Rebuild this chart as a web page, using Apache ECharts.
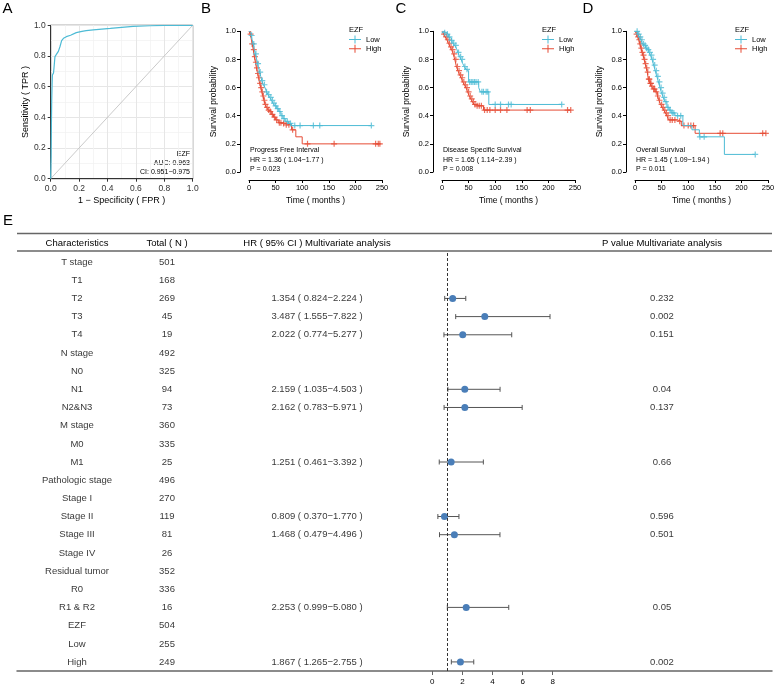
<!DOCTYPE html>
<html>
<head>
<meta charset="utf-8">
<title>EZF</title>
<script src="https://cdn.jsdelivr.net/npm/echarts@6/dist/echarts.min.js"></script>
<style>
  html, body { margin: 0; padding: 0; background: #fff; }
  #main { width: 778px; height: 686px; }
</style>
</head>
<body>
<div id="main"></div>
<script>
// ---- A: ROC ----
const rocFpr = [0, 0, 0.003, 0.005, 0.007, 0.01, 0.012, 0.02, 0.023, 0.03, 0.04, 0.054, 0.065, 0.077, 0.09, 0.11, 0.14, 0.18, 0.22, 0.25, 0.3, 0.36, 0.42, 0.5, 0.58, 0.7, 0.8, 1]
const rocTpr = [0, 0.02, 0.15, 0.35, 0.5, 0.62, 0.676, 0.69, 0.72, 0.796, 0.81, 0.83, 0.86, 0.9, 0.915, 0.926, 0.935, 0.952, 0.96, 0.965, 0.97, 0.975, 0.98, 0.987, 0.993, 0.997, 1, 1]
const diagonal = [0, 1]

// ---- B: progress free interval ----
const pfiLowTime = [0, 2, 4, 6, 8, 10, 12, 14, 16, 18, 20, 22, 24, 27, 30, 33, 36, 39, 42, 45, 48, 52, 56, 60, 64, 68, 74, 80]
const pfiLowSurv = [1, 0.99, 0.97, 0.94, 0.91, 0.87, 0.84, 0.81, 0.77, 0.74, 0.71, 0.68, 0.65, 0.62, 0.6, 0.57, 0.55, 0.53, 0.51, 0.49, 0.47, 0.45, 0.43, 0.4, 0.38, 0.36, 0.345, 0.33]
const pfiLowCensor = [5, 9, 13, 17, 21, 25, 29, 33, 37, 41, 44, 47, 50, 54, 58, 62, 66, 72, 78, 86, 96, 121, 133, 230]
const pfiHighTime = [0, 2, 4, 6, 8, 10, 12, 14, 16, 18, 20, 22, 24, 26, 28, 30, 33, 36, 39, 42, 46, 50, 55, 62, 70, 80, 88, 100]
const pfiHighSurv = [1, 0.98, 0.95, 0.91, 0.87, 0.82, 0.78, 0.74, 0.7, 0.67, 0.63, 0.6, 0.57, 0.54, 0.51, 0.48, 0.46, 0.44, 0.43, 0.41, 0.39, 0.37, 0.35, 0.345, 0.335, 0.3, 0.25, 0.2]
const pfiHighCensor = [3, 6, 9, 11, 13, 15, 17, 19, 21, 23, 25, 27, 29, 31, 34, 37, 40, 44, 48, 52, 57, 60, 65, 70, 75, 82, 110, 160, 238, 243, 246]

// ---- C: disease specific survival ----
const dssLowTime = [0, 4, 8, 12, 15, 18, 21, 24, 27, 30, 33, 36, 39, 42, 45, 48, 50, 69, 72, 88]
const dssLowSurv = [1, 0.99, 0.98, 0.96, 0.95, 0.935, 0.915, 0.9, 0.88, 0.85, 0.82, 0.8, 0.77, 0.75, 0.73, 0.72, 0.64, 0.6, 0.57, 0.48]
const dssLowCensor = [5, 10, 14, 18, 22, 26, 31, 35, 38, 43, 47, 52, 55, 58, 61, 64, 68, 75, 78, 83, 86, 100, 110, 125, 130, 225]
const dssHighTime = [0, 3, 6, 9, 12, 15, 18, 21, 24, 27, 30, 33, 36, 39, 42, 45, 48, 51, 54, 57, 60, 63, 78]
const dssHighSurv = [1, 0.98, 0.96, 0.94, 0.915, 0.89, 0.87, 0.84, 0.8, 0.75, 0.72, 0.69, 0.67, 0.64, 0.62, 0.6, 0.57, 0.54, 0.52, 0.5, 0.48, 0.47, 0.44]
const dssHighCensor = [4, 8, 11, 14, 17, 20, 23, 26, 29, 32, 35, 38, 41, 44, 47, 50, 53, 56, 59, 62, 66, 70, 74, 80, 85, 90, 100, 110, 122, 160, 166, 236, 242]

// ---- D: overall survival ----
const osLowTime = [0, 5, 8, 11, 14, 17, 20, 23, 26, 29, 32, 35, 38, 41, 44, 47, 50, 53, 56, 60, 64, 68, 75, 90, 107, 121, 168]
const osLowSurv = [1, 0.98, 0.96, 0.94, 0.91, 0.9, 0.88, 0.87, 0.85, 0.83, 0.8, 0.76, 0.72, 0.68, 0.64, 0.6, 0.56, 0.53, 0.5, 0.46, 0.44, 0.42, 0.4, 0.33, 0.3, 0.25, 0.125]
const osLowCensor = [4, 7, 10, 13, 16, 19, 22, 25, 28, 31, 34, 37, 40, 43, 46, 49, 52, 55, 58, 62, 66, 70, 73, 80, 86, 122, 130, 226]
const osHighTime = [0, 3, 5, 7, 9, 11, 13, 15, 17, 19, 21, 23, 25, 28, 31, 34, 38, 42, 45, 48, 51, 54, 57, 60, 63, 80, 87, 113]
const osHighSurv = [1, 0.98, 0.96, 0.94, 0.91, 0.88, 0.85, 0.83, 0.8, 0.77, 0.74, 0.71, 0.66, 0.63, 0.61, 0.59, 0.57, 0.54, 0.51, 0.48, 0.46, 0.44, 0.42, 0.4, 0.37, 0.36, 0.33, 0.275]
const osHighCensor = [3, 6, 8, 10, 12, 14, 16, 18, 20, 22, 24, 26, 27, 29, 30, 32, 35, 37, 40, 43, 46, 50, 53, 56, 59, 62, 66, 70, 75, 84, 92, 100, 105, 110, 160, 165, 240, 246]

const kmTitles = ['Progress Free Interval', 'Disease Specific Survival', 'Overall Survival']
const kmHr = ['HR = 1.36 ( 1.04−1.77 )', 'HR = 1.65 ( 1.14−2.39 )', 'HR = 1.45 ( 1.09−1.94 )']
const kmP = ['P = 0.023', 'P = 0.008', 'P = 0.011']

// ---- E: multivariate table / forest ----
const charLabels = ['T stage', 'T1', 'T2', 'T3', 'T4', 'N stage', 'N0', 'N1', 'N2&N3', 'M stage', 'M0', 'M1', 'Pathologic stage', 'Stage I', 'Stage II', 'Stage III', 'Stage IV', 'Residual tumor', 'R0', 'R1 & R2', 'EZF', 'Low', 'High']
const totals = [501, 168, 269, 45, 19, 492, 325, 94, 73, 360, 335, 25, 496, 270, 119, 81, 26, 352, 336, 16, 504, 255, 249]
const hrEst = [null, null, 1.354, 3.487, 2.022, null, null, 2.159, 2.162, null, null, 1.251, null, null, 0.809, 1.468, null, null, null, 2.253, null, null, 1.867]
const hrLow = [null, null, 0.824, 1.555, 0.774, null, null, 1.035, 0.783, null, null, 0.461, null, null, 0.370, 0.479, null, null, null, 0.999, null, null, 1.265]
const hrHigh = [null, null, 2.224, 7.822, 5.277, null, null, 4.503, 5.971, null, null, 3.392, null, null, 1.770, 4.496, null, null, null, 5.080, null, null, 2.755]
const pValues = ['', '', '0.232', '0.002', '0.151', '', '', '0.04', '0.137', '', '', '0.66', '', '', '0.596', '0.501', '', '', '', '0.05', '', '', '0.002']
const forestTicks = [0, 2, 4, 6, 8]

const LOW = '#4DBBD5'
const HIGH = '#E64B35'
const FONT = 'Liberation Sans, Arial, sans-serif'
const plusIcon = 'path://M4,0H6V10H4Z M0,4H10V6H0Z'
const legendIcon = 'path://M0,3.5H12V4.5H0Z M5.5,0H6.5V8H5.5Z'

let myChart = echarts.init(document.getElementById('main'))

let grid = []
let xAxis = []
let yAxis = []
let series = []
let legend = []
let graphic = []

function txt(x, y, text, size, align) {
  return {
    type: 'text',
    x: x,
    y: y,
    style: {
      text: text,
      fontSize: size,
      fontFamily: FONT,
      fill: '#000',
      align: align || 'left',
      verticalAlign: 'middle'
    }
  }
}

// panel letters
graphic.push(txt(7.5, 9, 'A', 15, 'center'))
graphic.push(txt(206, 9, 'B', 15, 'center'))
graphic.push(txt(401, 9, 'C', 15, 'center'))
graphic.push(txt(588, 9, 'D', 15, 'center'))
graphic.push(txt(8, 221, 'E', 15, 'center'))

// ROC panel
grid.push({ left: 50.7, top: 25.3, width: 142, height: 153.4, show: true, borderColor: '#333', borderWidth: 1 })
let rocAxis = (name, gap) => ({
  gridIndex: 0,
  type: 'value',
  min: 0,
  max: 1,
  interval: 0.2,
  name: name,
  nameLocation: 'middle',
  nameGap: gap,
  nameTextStyle: { fontSize: 9, color: '#000' },
  axisLine: { show: true, lineStyle: { color: '#333' } },
  axisTick: { show: true, length: 3, lineStyle: { color: '#333' } },
  axisLabel: { fontSize: 8.5, color: '#333', margin: 5, formatter: v => v.toFixed(1) },
  splitLine: { show: true, lineStyle: { color: '#e6e6e6', width: 1 } },
  minorTick: { show: false, splitNumber: 2 },
  minorSplitLine: { show: true, lineStyle: { color: '#f3f3f3', width: 0.8 } }
})
xAxis.push(rocAxis('1 − Specificity ( FPR )', 17))
yAxis.push(rocAxis('Sensitivity ( TPR )', 21))
series.push({
  type: 'line',
  xAxisIndex: 0,
  yAxisIndex: 0,
  data: diagonal.map(v => [v, v]),
  symbol: 'none',
  lineStyle: { color: '#bdbdbd', width: 0.8 },
  silent: true
})
series.push({
  type: 'line',
  name: 'ROC',
  xAxisIndex: 0,
  yAxisIndex: 0,
  data: rocFpr.map((v, i) => [v, rocTpr[i]]),
  symbol: 'none',
  lineStyle: { color: LOW, width: 1.2 }
})
graphic.push(txt(190, 154, 'EZF', 7, 'right'))
graphic.push(txt(190, 163, 'AUC: 0.963', 7, 'right'))
graphic.push(txt(190, 172, 'CI: 0.951−0.975', 7, 'right'))

// KM panels
function survAt(times, surv, t) {
  let s = surv[0]
  for (let i = 0; i < times.length; i++) {
    if (times[i] <= t) s = surv[i]
  }
  return s
}

let kmData = [
  [[pfiLowTime, pfiLowSurv, pfiLowCensor], [pfiHighTime, pfiHighSurv, pfiHighCensor]],
  [[dssLowTime, dssLowSurv, dssLowCensor], [dssHighTime, dssHighSurv, dssHighCensor]],
  [[osLowTime, osLowSurv, osLowCensor], [osHighTime, osHighSurv, osHighCensor]]
]
let kmLeft = [249, 442, 635]

kmData.forEach((groups, k) => {
  let g = k + 1
  let x0 = kmLeft[k]
  grid.push({ left: x0, top: 31.3, width: 133, height: 140.7 })
  xAxis.push({
    gridIndex: g,
    type: 'value',
    min: 0,
    max: 250,
    interval: 50,
    offset: 8,
    name: 'Time ( months )',
    nameLocation: 'middle',
    nameGap: 16,
    nameTextStyle: { fontSize: 8.5, color: '#000' },
    axisLine: { show: true, onZero: false, lineStyle: { color: '#000', width: 1 } },
    axisTick: { show: true, length: 3, lineStyle: { color: '#000' } },
    axisLabel: { fontSize: 7.5, color: '#000', margin: 4 },
    splitLine: { show: false }
  })
  yAxis.push({
    gridIndex: g,
    type: 'value',
    min: 0,
    max: 1,
    interval: 0.2,
    offset: 9,
    name: 'Survival probability',
    nameLocation: 'middle',
    nameGap: 22,
    nameTextStyle: { fontSize: 8.5, color: '#000' },
    axisLine: { show: true, onZero: false, lineStyle: { color: '#000', width: 1 } },
    axisTick: { show: true, length: 3, lineStyle: { color: '#000' } },
    axisLabel: { fontSize: 7.5, color: '#000', margin: 4, formatter: v => v.toFixed(1) },
    splitLine: { show: false }
  })
  ;[['Low', LOW], ['High', HIGH]].forEach(([name, color], j) => {
    let [times, surv, censor] = groups[j]
    let end = Math.max(...censor)
    let line = times.map((t, i) => [t, surv[i]])
    line.push([end, surv[surv.length - 1]])
    series.push({
      type: 'line',
      name: name,
      xAxisIndex: g,
      yAxisIndex: g,
      step: 'end',
      data: line,
      symbol: 'none',
      color: color,
      lineStyle: { color: color, width: 1 },
      z: j === 0 ? 3 : 2
    })
    series.push({
      type: 'scatter',
      name: name,
      xAxisIndex: g,
      yAxisIndex: g,
      data: censor.map(c => [c, survAt(times, surv, c)]),
      symbol: plusIcon,
      symbolSize: 6,
      itemStyle: { color: color },
      z: j === 0 ? 3 : 2
    })
  })
  legend.push({
    left: x0 + 100,
    top: 35.5,
    orient: 'vertical',
    padding: 0,
    itemWidth: 12,
    itemHeight: 8,
    itemGap: 1.3,
    textStyle: { fontSize: 7.5, color: '#000', fontFamily: FONT },
    data: [{ name: 'Low', icon: legendIcon }, { name: 'High', icon: legendIcon }]
  })
  graphic.push(txt(x0 + 100, 30, 'EZF', 7.5))
  graphic.push(txt(x0 + 1, 150, kmTitles[k], 7))
  graphic.push(txt(x0 + 1, 160, kmHr[k], 7))
  graphic.push(txt(x0 + 1, 169, kmP[k], 7))
})

// E: forest plot, shares rows with the table columns
const tableTop = 253
const tableHeight = 418.2
const forestZero = 432.3
const forestUnit = 15.05
const forestLeft = 17
const forestRight = 772
let rowAxis = gi => ({
  gridIndex: gi,
  type: 'value',
  min: -0.5,
  max: charLabels.length - 0.5,
  inverse: true,
  show: false
})

let fg = grid.length
grid.push({ left: forestLeft, right: 778 - forestRight, top: tableTop, height: tableHeight })
xAxis.push({
  gridIndex: fg,
  type: 'value',
  position: 'bottom',
  min: (forestLeft - forestZero) / forestUnit,
  max: (forestRight - forestZero) / forestUnit,
  axisLine: { show: true, onZero: false, lineStyle: { color: '#666', width: 1.5 } },
  axisTick: { show: true, length: 4, customValues: forestTicks, lineStyle: { color: '#666' } },
  axisLabel: { show: true, fontSize: 8, color: '#000', margin: 7, customValues: forestTicks },
  splitLine: { show: false }
})
yAxis.push(rowAxis(fg))

let ciRows = []
let pointRows = []
hrEst.forEach((v, i) => {
  if (v != null) {
    ciRows.push([hrLow[i], hrHigh[i], i])
    pointRows.push([v, i])
  }
})
series.push({
  type: 'custom',
  xAxisIndex: fg,
  yAxisIndex: fg,
  data: ciRows,
  encode: { x: [0, 1], y: 2 },
  renderItem: function (params, api) {
    let idx = api.value(2)
    let a = api.coord([api.value(0), idx])
    let b = api.coord([api.value(1), idx])
    let h = 2.5
    let st = { stroke: '#555', lineWidth: 1 }
    return {
      type: 'group',
      children: [
        { type: 'line', shape: { x1: a[0], y1: a[1], x2: b[0], y2: b[1] }, style: st },
        { type: 'line', shape: { x1: a[0], y1: a[1] - h, x2: a[0], y2: a[1] + h }, style: st },
        { type: 'line', shape: { x1: b[0], y1: b[1] - h, x2: b[0], y2: b[1] + h }, style: st }
      ]
    }
  },
  z: 3
})
series.push({
  type: 'scatter',
  xAxisIndex: fg,
  yAxisIndex: fg,
  data: pointRows,
  symbolSize: 7,
  itemStyle: { color: '#4A7EB8', opacity: 1 },
  markLine: {
    silent: true,
    symbol: ['none', 'none'],
    label: { show: false },
    lineStyle: { color: '#333', width: 1, type: [3, 2] },
    data: [{ xAxis: 1 }]
  },
  z: 4
})

// table text columns
let columns = [
  { center: 77, width: 110, header: 'Characteristics', cells: charLabels },
  { center: 167, width: 60, header: 'Total ( N )', cells: totals.map(String) },
  {
    center: 317, width: 160, header: 'HR ( 95% CI ) Multivariate analysis',
    cells: hrEst.map((v, i) => v == null ? '' : v.toFixed(3) + ' ( ' + hrLow[i].toFixed(3) + '−' + hrHigh[i].toFixed(3) + ' )')
  },
  { center: 662, width: 140, header: 'P value Multivariate analysis', cells: pValues }
]
columns.forEach(col => {
  let ci = grid.length
  grid.push({ left: col.center - col.width / 2, width: col.width, top: tableTop, height: tableHeight })
  xAxis.push({
    gridIndex: ci,
    type: 'value',
    min: 0,
    max: 1,
    position: 'top',
    name: col.header,
    nameLocation: 'middle',
    nameGap: 5,
    nameTextStyle: { fontSize: 9.5, color: '#000' },
    axisLine: { show: false, onZero: false },
    axisTick: { show: false },
    axisLabel: { show: false },
    splitLine: { show: false }
  })
  yAxis.push(rowAxis(ci))
  series.push({
    type: 'scatter',
    xAxisIndex: ci,
    yAxisIndex: ci,
    data: col.cells.map((c, i) => [0.5, i, c]),
    symbolSize: 1,
    itemStyle: { color: 'transparent' },
    silent: true,
    label: {
      show: true,
      position: 'inside',
      fontSize: 9.5,
      color: '#000',
      formatter: p => p.data[2]
    }
  })
})

// table rules
let rule = y => ({
  type: 'line',
  shape: { x1: forestLeft, y1: y, x2: forestRight, y2: y },
  style: { stroke: '#666', lineWidth: 1.3 }
})
graphic.push(rule(233.5))
graphic.push(rule(251))

myChart.setOption({
  animation: false,
  textStyle: { fontFamily: FONT },
  grid: grid,
  xAxis: xAxis,
  yAxis: yAxis,
  legend: legend,
  series: series,
  graphic: graphic
})
</script>
</body>
</html>
